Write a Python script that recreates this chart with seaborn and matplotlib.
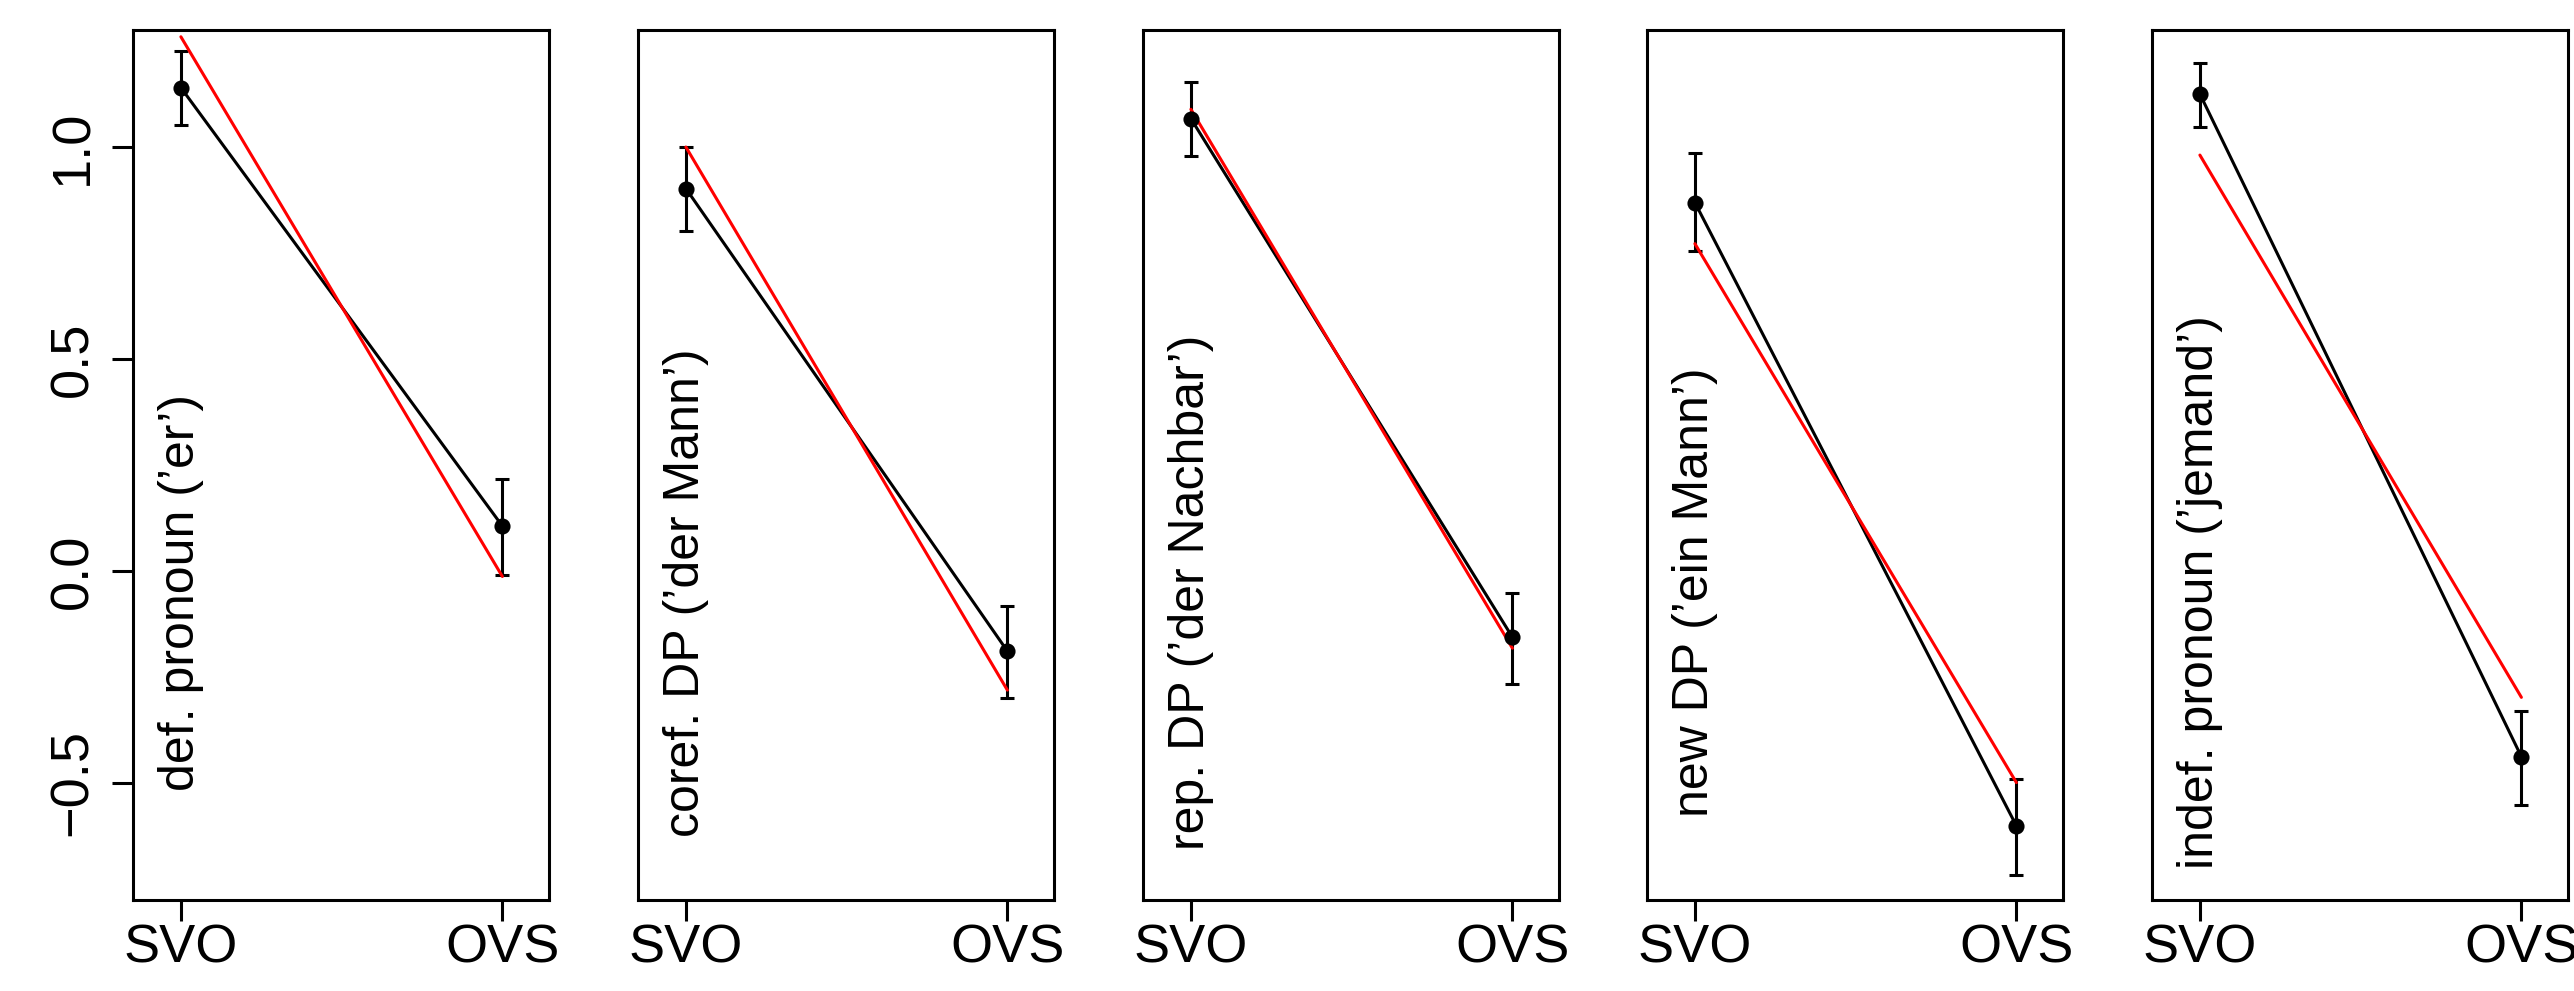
import matplotlib
matplotlib.use("Agg")
import matplotlib.pyplot as plt
import seaborn as sns

# Conditions (one panel each) and word orders on the x axis
conditions = ["def. pronoun (’er’)", "coref. DP (’der Mann’)", "rep. DP (’der Nachbar’)",
              "new DP (’ein Mann’)", "indef. pronoun (’jemand’)"]
orders = ["SVO", "OVS"]

# Observed means with error bar ends
svo_mean = [1.140, 0.902, 1.067, 0.869, 1.125]
svo_low = [1.051, 0.801, 0.978, 0.754, 1.048]
svo_high = [1.226, 1.000, 1.153, 0.987, 1.199]
ovs_mean = [0.106, -0.189, -0.156, -0.601, -0.438]
ovs_low = [-0.010, -0.299, -0.266, -0.717, -0.551]
ovs_high = [0.217, -0.082, -0.051, -0.490, -0.330]

# Model predictions (red lines)
pred_svo = [1.260, 1.000, 1.089, 0.772, 0.981]
pred_ovs = [-0.013, -0.281, -0.182, -0.499, -0.298]

yticks = [-0.5, 0.0, 0.5, 1.0]
ytick_labels = ["\u22120.5", "0.0", "0.5", "1.0"]

sns.set_style("white")
plt.rcParams["font.family"] = ["Liberation Sans", "DejaVu Sans"]
plt.rcParams["text.color"] = "black"
plt.rcParams["xtick.color"] = "black"
plt.rcParams["ytick.color"] = "black"

W, H = 2574, 991
fig = plt.figure(figsize=(W / 100, H / 100), dpi=100)

panel_left = [133, 638, 1143, 1647, 2152]
panel_w = 416
top, bottom = 30, 900
lw = 2.2

for i, cond in enumerate(conditions):
    ax = fig.add_axes([panel_left[i] / W, 1 - bottom / H, panel_w / W, (bottom - top) / H])
    x = [0, 1]

    # observed means: black line with points
    sns.lineplot(x=x, y=[svo_mean[i], ovs_mean[i]], color="black", linewidth=lw,
                 ax=ax, zorder=2)
    # error bars
    means = [svo_mean[i], ovs_mean[i]]
    lows = [svo_low[i], ovs_low[i]]
    highs = [svo_high[i], ovs_high[i]]
    yerr = [[m - l for m, l in zip(means, lows)], [h - m for m, h in zip(means, highs)]]
    ax.errorbar(x, means, yerr=yerr, fmt="none", ecolor="black", elinewidth=lw,
                capsize=5.2, capthick=lw, zorder=3)
    # model prediction
    sns.lineplot(x=x, y=[pred_svo[i], pred_ovs[i]], color="red", linewidth=lw,
                 ax=ax, zorder=4)
    sns.scatterplot(x=x, y=means, color="black", s=135, edgecolor="black",
                    linewidth=0, ax=ax, zorder=5)

    ax.text(0, -0.05, cond, rotation=90, ha="center", va="center", fontsize=36,
            color="black")

    ax.set_xlim(-0.149, 1.145)
    ax.set_ylim(-0.776, 1.276)
    ax.set_xticks(x)
    ax.set_xticklabels(orders, color="black")
    for s in ax.spines.values():
        s.set_visible(True)
        s.set_linewidth(lw)
        s.set_color("black")
    ax.tick_params(axis="x", direction="out", length=15, width=lw, labelsize=39, pad=2,
                   bottom=True, color="black", labelcolor="black")
    if i == 0:
        ax.set_yticks(yticks)
        ax.set_yticklabels(ytick_labels, rotation=90, va="center", color="black")
        ax.tick_params(axis="y", direction="out", length=15, width=lw, labelsize=39,
                       pad=10, left=True, color="black", labelcolor="black")
    else:
        ax.set_yticks([])
    ax.set_xlabel("")
    ax.set_ylabel("")

fig.savefig("out.png", dpi=100)
